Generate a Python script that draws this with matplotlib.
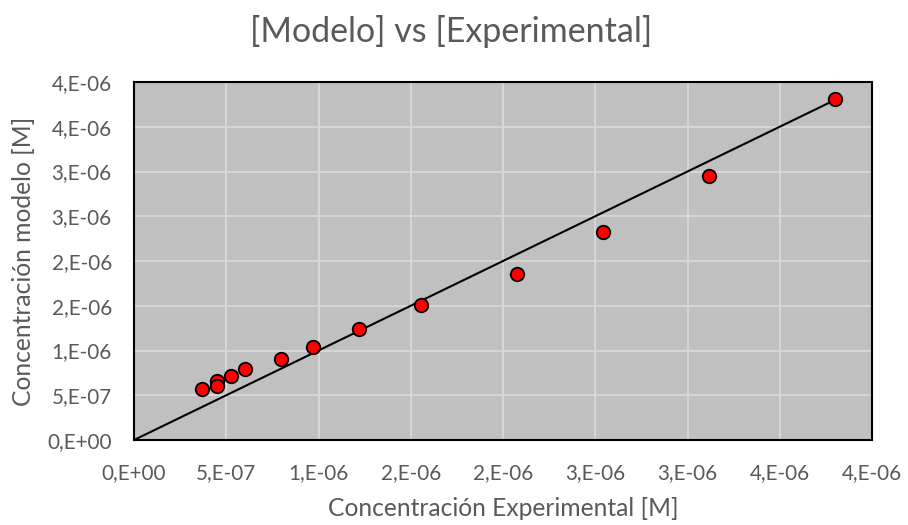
import matplotlib
matplotlib.use("Agg")
import matplotlib.pyplot as plt

exp_conc = [0.370e-6, 0.448e-6, 0.448e-6, 0.526e-6, 0.603e-6, 0.797e-6, 0.972e-6,
            1.218e-6, 1.556e-6, 2.076e-6, 2.542e-6, 3.115e-6, 3.799e-6]
mod_conc = [0.570e-6, 0.659e-6, 0.603e-6, 0.715e-6, 0.793e-6, 0.902e-6, 1.042e-6,
            1.237e-6, 1.508e-6, 1.855e-6, 2.324e-6, 2.953e-6, 3.807e-6]
line_x = [0.0, 3.78e-6]
line_y = [0.0, 3.78e-6]
tick_vals = [0, 0.5e-6, 1.0e-6, 1.5e-6, 2.0e-6, 2.5e-6, 3.0e-6, 3.5e-6, 4.0e-6]
tick_labels = ["0,E+00", "5,E-07", "1,E-06", "2,E-06", "2,E-06", "3,E-06", "3,E-06", "4,E-06", "4,E-06"]

plt.rcParams['font.family'] = ['Lato', 'DejaVu Sans']
txt = '#595959'

fig = plt.figure(figsize=(9.08, 5.25), dpi=100)
ax = fig.add_axes([134/908, 1-440/525, (872-134)/908, (440-82)/525])
ax.set_facecolor('#C0C0C0')
ax.set_xlim(0, 4e-6)
ax.set_ylim(0, 4e-6)
ax.set_xticks(tick_vals)
ax.set_xticklabels(tick_labels)
ax.set_yticks(tick_vals)
ax.set_yticklabels(tick_labels)
ax.grid(True, color='#D9D9D9', linewidth=1.3)
ax.set_axisbelow(True)
for s in ax.spines.values():
    s.set_color('black')
    s.set_linewidth(1.5)
ax.tick_params(axis='x', length=0, pad=16.5, labelsize=14.9, labelcolor=txt)
ax.tick_params(axis='y', length=0, pad=16, labelsize=14.9, labelcolor=txt)

ax.plot(line_x, line_y, color='black', linewidth=1.5, zorder=2)
ax.plot(exp_conc, mod_conc, linestyle='none', marker='o', markersize=9.7,
        markerfacecolor='#FF0000', markeredgecolor='black', markeredgewidth=1.3, zorder=3)

ax.set_xlabel('Concentración Experimental [M]', fontsize=17.7, color=txt)
ax.set_ylabel('Concentración modelo [M]', fontsize=17.7, color=txt)
ax.xaxis.set_label_coords((503-134)/738, (440-509)/358)
ax.xaxis.label.set_va('center')
ax.yaxis.set_label_coords((24-134)/738, (440-261)/358)
ax.yaxis.label.set_va('center')
fig.text(451/908, 1-31/525, '[Modelo] vs [Experimental]', fontsize=24.5, color=txt,
         ha='center', va='center')

fig.savefig('out.png', dpi=100, facecolor='white')
